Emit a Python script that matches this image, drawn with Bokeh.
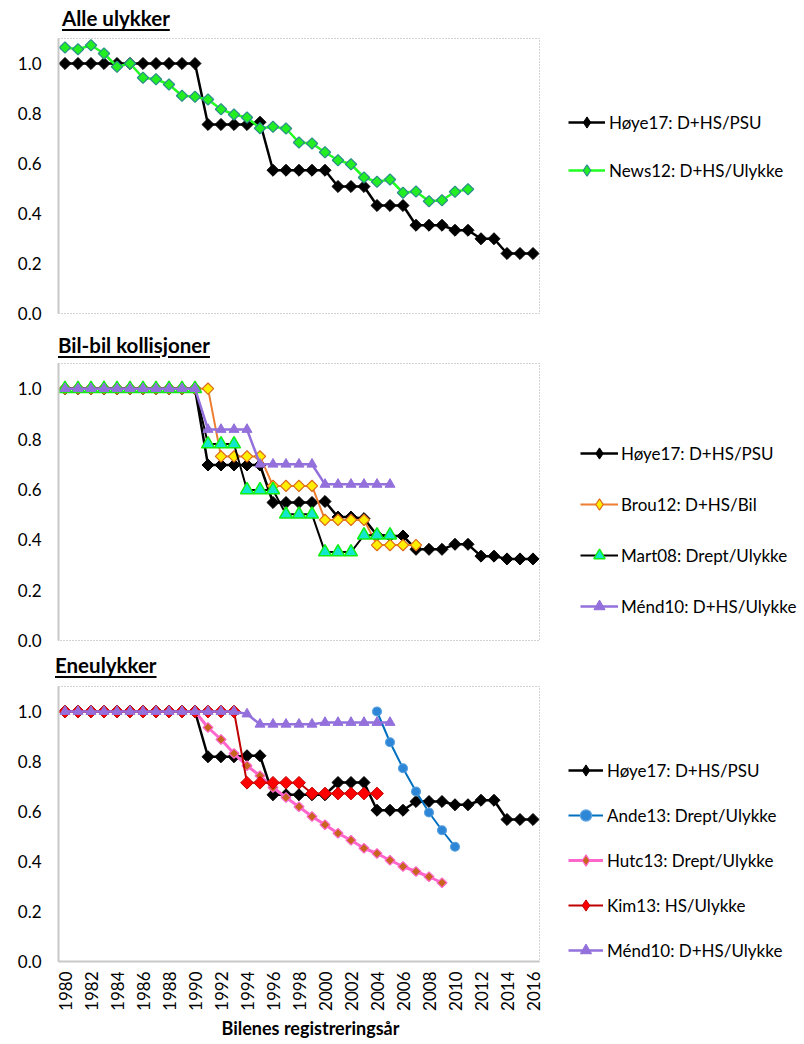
import numpy as np
from bokeh.plotting import figure
from bokeh.layouts import column
from bokeh.models import (FixedTicker, PrintfTickFormatter, Legend, LegendItem,
                          Title, Range1d, Div)
from bokeh.embed import file_html
from bokeh.resources import INLINE

FONT = "Lato"

# Registration years shown on the shared x axis
YEARS = list(range(1980, 2017))
YEAR_TICKS = list(range(1980, 2017, 2))
Y_TICKS = [0.0, 0.2, 0.4, 0.6, 0.8, 1.0]

# --- Alle ulykker -------------------------------------------------------
alle_hoye17 = ([1.0] * 11 + [0.756] * 4 + [0.765] + [0.573] * 5 + [0.508] * 3 +
               [0.432] * 3 + [0.353] * 3 + [0.333] * 2 + [0.299] * 2 + [0.24] * 3)
alle_news12_start = 1980
alle_news12 = [1.064, 1.057, 1.073, 1.04, 0.987, 1.0, 0.943, 0.937, 0.916, 0.871,
               0.867, 0.856, 0.817, 0.796, 0.784, 0.741, 0.747, 0.74, 0.684, 0.68,
               0.645, 0.613, 0.597, 0.544, 0.527, 0.536, 0.483, 0.488, 0.449, 0.453,
               0.487, 0.497]

# --- Bil-bil kollisjoner --------------------------------------------------
bil_hoye17 = ([1.0] * 11 + [0.697] * 5 + [0.548] * 4 + [0.552] + [0.49, 0.49, 0.484] +
              [0.418, 0.415, 0.415] + [0.362] * 3 + [0.382] * 2 + [0.335] * 2 + [0.324] * 3)
bil_brou12_start = 1980
bil_brou12 = [1.0] * 12 + [0.731] * 4 + [0.614] * 4 + [0.479] * 4 + [0.379] * 4
bil_mart08_start = 1980
bil_mart08 = [1.0] * 11 + [0.78] * 3 + [0.598] * 3 + [0.501] * 3 + [0.351] * 3 + [0.418] * 3
bil_mend10_start = 1980
bil_mend10 = [1.0] * 11 + [0.838] * 4 + [0.70] * 5 + [0.62] * 6

# --- Eneulykker -----------------------------------------------------------
ene_hoye17 = ([1.0] * 11 + [0.819] * 3 + [0.823] * 2 + [0.667] * 5 + [0.716] * 3 +
              [0.605] * 3 + [0.64] * 3 + [0.627] * 2 + [0.645] * 2 + [0.568] * 3)
ene_ande13_start = 2004
ene_ande13 = [1.0, 0.877, 0.773, 0.68, 0.596, 0.525, 0.459]
ene_hutc13_start = 1980
ene_hutc13 = [1.0] * 11 + [0.936, 0.888, 0.832, 0.783, 0.743, 0.696, 0.656, 0.619,
                           0.58, 0.547, 0.513, 0.485, 0.453, 0.432, 0.405, 0.38,
                           0.36, 0.339, 0.315]
ene_kim13_start = 1980
ene_kim13 = [1.0] * 14 + [0.715] * 5 + [0.672] * 6
ene_mend10_start = 1980
ene_mend10 = [1.0] * 14 + [0.99] + [0.949] * 5 + [0.956] * 6

LABEL_HOYE = "Høye17: D+HS/PSU"
LABEL_NEWS = "News12: D+HS/Ulykke"
LABEL_BROU = "Brou12: D+HS/Bil"
LABEL_MART = "Mart08: Drept/Ulykke"
LABEL_MEND = "Ménd10: D+HS/Ulykke"
LABEL_ANDE = "Ande13: Drept/Ulykke"
LABEL_HUTC = "Hutc13: Drept/Ulykke"
LABEL_KIM = "Kim13: HS/Ulykke"

TITLE_ALLE = "Alle ulykker"
TITLE_BIL = "Bil-bil kollisjoner"
TITLE_ENE = "Eneulykker"
X_TITLE = "Bilenes registreringsår"

FRAME_W = 481
DIAMOND = np.pi / 4
KEY_H = 28          # legend row height; legend markers scale with it


def yrs(start, vals):
    return list(range(start, start + len(vals)))


def heading(text, height, pad_left, pad_top):
    html = (f'<div style="padding-left:{pad_left}px;padding-top:{pad_top}px;'
            f'font-family:{FONT};font-weight:bold;font-size:20.5px;line-height:1;'
            f'color:black;white-space:nowrap;">'
            f'<span style="text-decoration:underline;text-decoration-thickness:1.5px;'
            f'text-underline-offset:3px;">{text}</span></div>')
    return Div(text=html, width=804, height=height, margin=0)


def panel(left, frame_h, bottom, show_x):
    p = figure(frame_width=FRAME_W, frame_height=frame_h,
               min_border_left=left, min_border_right=804 - left - FRAME_W,
               min_border_top=2, min_border_bottom=bottom,
               x_range=Range1d(1979.5, 2016.5), y_range=Range1d(0, 1.1),
               x_axis_location="below" if show_x else None,
               output_backend="svg", toolbar_location=None, tools="")
    p.grid.visible = False
    p.outline_line_color = "#a6a6a6"
    p.outline_line_dash = "1 2"
    p.outline_line_width = 1
    p.background_fill_color = "white"
    p.border_fill_color = "white"

    ya = p.yaxis[0]
    ya.ticker = FixedTicker(ticks=Y_TICKS)
    ya.formatter = PrintfTickFormatter(format="%.1f")
    ya.major_tick_line_color = None
    ya.minor_tick_line_color = None
    ya.major_tick_out = 0
    ya.major_tick_in = 0
    ya.axis_line_color = "#c8c8c8"
    ya.axis_line_width = 2
    ya.major_label_standoff = 17
    ya.major_label_text_font = FONT
    ya.major_label_text_font_size = "17px"
    ya.major_label_text_color = "black"

    if show_x:
        xa = p.xaxis[0]
        xa.ticker = FixedTicker(ticks=YEAR_TICKS)
        xa.formatter = PrintfTickFormatter(format="%d")
        xa.major_label_orientation = np.pi / 2
        xa.major_tick_line_color = None
        xa.minor_tick_line_color = None
        xa.major_tick_out = 0
        xa.major_tick_in = 0
        xa.axis_line_color = "#c8c8c8"
        xa.axis_line_width = 2
        xa.major_label_standoff = 10
        xa.major_label_text_font = FONT
        xa.major_label_text_font_size = "17px"
        xa.major_label_text_color = "black"
    return p


def series(p, start, vals, line_color, line_width, marker, size, fill, edge,
           edge_width=1.0, angle=0.0):
    """Line + markers; returns the renderers used for the legend key."""
    x = yrs(start, vals)
    r1 = p.line(x, vals, line_color=line_color, line_width=line_width)
    r2 = p.scatter(x, vals, marker=marker, size=size, angle=angle,
                   fill_color=fill, line_color=edge, line_width=edge_width)
    if angle:
        # rotated squares are shown as diamonds in the legend key
        key = p.scatter([np.nan], [np.nan], marker="diamond", size=size,
                        fill_color=fill, line_color=edge, line_width=edge_width)
        return [r1, key]
    return [r1, r2]


def legend(p, items, loc, glyph_w, standoff, spacing):
    lg = Legend(items=[LegendItem(label=t, renderers=r) for t, r in items],
                location=loc, orientation="vertical",
                glyph_width=glyph_w, glyph_height=KEY_H, label_height=KEY_H,
                label_standoff=standoff, spacing=spacing, padding=0, margin=0,
                border_line_color=None, background_fill_alpha=0,
                label_text_font=FONT, label_text_font_size="17px",
                label_text_color="black")
    p.add_layout(lg, "right")


# Panel 1: all accidents
d1 = heading(TITLE_ALLE, 36, 62, 8)
p1 = panel(58, 275, 17, False)
h = series(p1, 1980, alle_hoye17, "black", 2.5, "square", 8.5, "black", "black", 1, DIAMOND)
n = series(p1, alle_news12_start, alle_news12, "#22FF22", 2.5, "square", 8, "#22EE22",
           "#2A8C8C", 1.2, DIAMOND)
legend(p1, [(LABEL_HOYE, h), (LABEL_NEWS, n)], (29, 129), 37, 4, 20)

# Panel 2: car-to-car collisions
d2 = heading(TITLE_BIL, 31, 58, 4.5)
p2 = panel(56, 277, 10, False)
h = series(p2, 1980, bil_hoye17, "black", 2.5, "square", 8.5, "black", "black", 1, DIAMOND)
b = series(p2, bil_brou12_start, bil_brou12, "#ED7D31", 2, "square", 8, "#FFEE00",
           "#DD6A1A", 1.2, DIAMOND)
m = series(p2, bil_mart08_start, bil_mart08, "black", 2, "triangle", 13, "#12E6CF",
           "#11EE11", 1.5)
d = series(p2, bil_mend10_start, bil_mend10, "#9370DB", 2.5, "triangle", 10, "#9370DB",
           "#9370DB", 1)
legend(p2, [(LABEL_HOYE, h), (LABEL_BROU, b), (LABEL_MART, m), (LABEL_MEND, d)],
       (41, 20), 38, 3, 23)

# Panel 3: single-vehicle accidents
d3 = heading(TITLE_ENE, 34, 55, 5)
p3 = panel(52, 275, 83, True)
h = series(p3, 1980, ene_hoye17, "black", 2.5, "square", 8.5, "black", "black", 1, DIAMOND)
a = series(p3, ene_ande13_start, ene_ande13, "#0070C0", 2, "circle", 9, "#2E86D6",
           "#5BA3E0", 1.2)
u = series(p3, ene_hutc13_start, ene_hutc13, "#FF66CC", 3, "square", 7, "#C8641E",
           "#FF66CC", 1.2, DIAMOND)
k = series(p3, ene_kim13_start, ene_kim13, "#C00000", 2, "square", 9, "#FF0000",
           "#C00000", 1, DIAMOND)
d = series(p3, ene_mend10_start, ene_mend10, "#9370DB", 2.5, "triangle", 10, "#9370DB",
           "#9370DB", 1)
legend(p3, [(LABEL_HOYE, h), (LABEL_ANDE, a), (LABEL_HUTC, u), (LABEL_KIM, k),
            (LABEL_MEND, d)], (29, -3), 35, 4, 17)

p3.add_layout(Title(text=X_TITLE, align="left", offset=163, text_font=FONT,
                    text_font_style="bold", text_font_size="18px",
                    text_color="black", standoff=2), "below")

layout = column(d1, p1, d2, p2, d3, p3, spacing=0)
open("out.html", "w").write(file_html(layout, INLINE))
